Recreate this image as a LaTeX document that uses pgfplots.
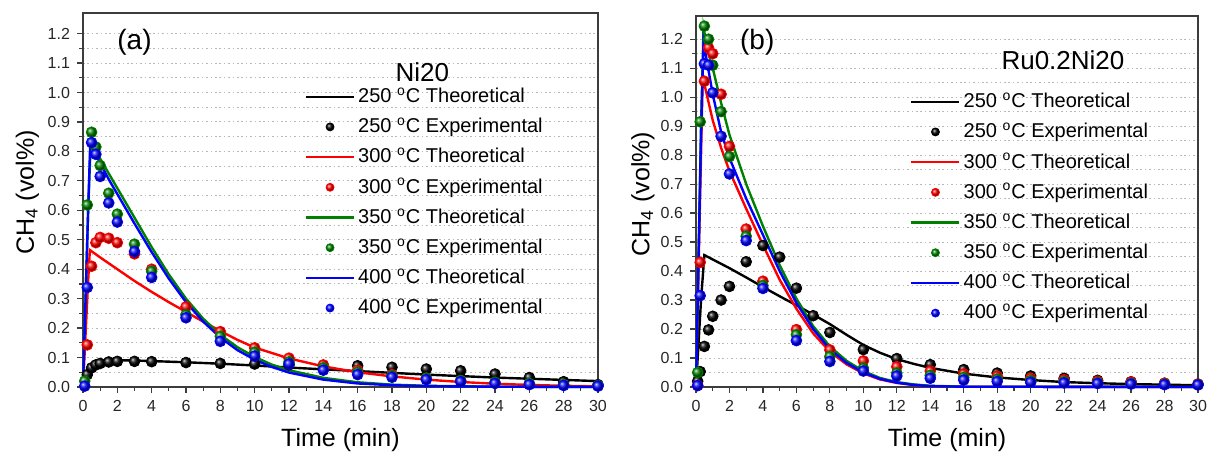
\documentclass[border=0pt]{standalone}
\usepackage{pgfplots}
\pgfplotsset{compat=1.18}
\usepackage{fontspec}
\setmainfont{Liberation Sans}
\usetikzlibrary{plotmarks}
\definecolor{cgreen}{RGB}{0,128,0}
\definecolor{cred}{RGB}{255,0,0}
\definecolor{cblue}{RGB}{0,0,255}
\definecolor{axgray}{RGB}{60,60,60}
\pgfplotsset{
  panel/.style={
    scale only axis, anchor=south west,
    xmin=0, xmax=30, ymin=0,
    xtick={0,2,4,6,8,10,12,14,16,18,20,22,24,26,28,30}, minor x tick num=1,
    ytick={0,0.1,0.2,0.3,0.4,0.5,0.6,0.7,0.8,0.9,1.0,1.1,1.2}, minor y tick num=1,
    /pgf/number format/assume math mode=true,
    yticklabel style={/pgf/number format/.cd, fixed, fixed zerofill, precision=1},
    ticklabel style={font=\fontsize{8}{9.6}\selectfont, text=black!85},
    tick align=outside, tick pos=left,
    major tick length=3pt, minor tick length=1.8pt,
    tick style={axgray, line width=0.6pt},
    axis line style={axgray, line width=0.8pt},
    ymajorgrids, yminorgrids,
    major grid style={gray!55, line width=0.5pt, dash pattern=on 0.8pt off 1.4pt},
    minor grid style={gray!55, line width=0.5pt, dash pattern=on 0.8pt off 1.4pt},
    xlabel={Time (min)}, ylabel={CH\textsubscript{4} (vol\%)},
    every axis x label/.style={at={(axis description cs:0.5,-0.142)}, anchor=center,
      font=\fontsize{12.5}{15}\selectfont},
    legend style={draw=none, fill=none, anchor=north west, font=\fontsize{10}{12}\selectfont,
      row sep=3.2pt, inner sep=0pt, nodes={inner sep=1.5pt}},
    legend cell align=left,
    clip=false,
  },
  theo/.style={line width=1.2pt, color=#1, mark=none,
    legend image code/.code={\draw[##1, line width=1.2pt] (0pt,0pt) -- (24pt,0pt);}},
  expt/.style={only marks, mark=ball, mark size=2.7pt, ball color=#1, color=#1,
    legend image code/.code={\draw[##1, mark size=2pt] plot coordinates {(12pt,0pt)};}},
}
\begin{document}
\begin{tikzpicture}
\useasboundingbox (0,0) rectangle (605pt,226.5pt);
% ---------------- panel (a)
\begin{axis}[panel, at={(41.5pt,33pt)}, width=257.5pt, height=187pt, ymax=1.27,
  every axis y label/.style={at={(axis description cs:-0.108,0.52)}, rotate=90, anchor=center,
      font=\fontsize{12.5}{15}\selectfont},
  legend style={at={(rel axis cs:0.430,0.809)}}]
\addplot[theo=black] coordinates {(0,0) (0.1,0.02) (0.25,0.05) (0.5,0.075) (0.75,0.083) (1,0.087) (1.5,0.09) (2,0.091) (3,0.09) (4,0.088) (6,0.084) (8,0.079) (10,0.073) (12,0.066) (14,0.06) (16,0.054) (18,0.048) (20,0.042) (22,0.037) (24,0.032) (26,0.028) (28,0.024) (30,0.02)};
\addlegendentry{250 \textsuperscript{o}C Theoretical}
\addplot[expt=black] coordinates {(0.25,0.042) (0.5,0.065) (0.75,0.075) (1,0.08) (1.5,0.085) (2,0.087) (3,0.087) (4,0.086) (6,0.083) (8,0.08) (10,0.078) (12,0.075) (14,0.072) (16,0.072) (18,0.067) (20,0.061) (22,0.055) (24,0.044) (26,0.032) (28,0.018) (30,0.008)};
\addlegendentry{250 \textsuperscript{o}C Experimental}
\addplot[theo=cred] coordinates {(0,0) (0.1,0.12) (0.2,0.24) (0.3,0.36) (0.4,0.465) (1,0.44) (2,0.40) (3,0.36) (4,0.323) (5,0.288) (6,0.255) (7,0.222) (8,0.19) (9,0.16) (10,0.134) (12,0.097) (14,0.07) (16,0.05) (18,0.036) (20,0.025) (22,0.017) (24,0.011) (26,0.007) (28,0.004) (30,0.002)};
\addlegendentry{300 \textsuperscript{o}C Theoretical}
\addplot[expt=cred] coordinates {(0.25,0.143) (0.5,0.41) (0.75,0.49) (1,0.508) (1.5,0.505) (2,0.49) (3,0.452) (4,0.40) (6,0.272) (8,0.188) (10,0.133) (12,0.098) (14,0.075) (16,0.057) (18,0.042) (20,0.03) (22,0.022) (24,0.015) (26,0.01) (28,0.007) (30,0.004)};
\addlegendentry{300 \textsuperscript{o}C Experimental}
\addplot[theo=cgreen] coordinates {(0,0) (0.1,0.2) (0.2,0.4) (0.3,0.6) (0.45,0.83) (1,0.775) (1.5,0.725) (2,0.675) (3,0.575) (4,0.475) (5,0.382) (6,0.30) (7,0.232) (8,0.177) (9,0.135) (10,0.102) (11,0.076) (12,0.057) (14,0.031) (16,0.016) (18,0.008) (20,0.004) (24,0.001) (30,0)};
\addlegendentry{350 \textsuperscript{o}C Theoretical}
\addplot[expt=cgreen] coordinates {(0.1,0.02) (0.25,0.618) (0.5,0.865) (0.75,0.815) (1,0.752) (1.5,0.658) (2,0.587) (3,0.485) (4,0.393) (6,0.245) (8,0.172) (10,0.118) (12,0.085) (14,0.065) (16,0.05) (18,0.038) (20,0.03) (22,0.022) (24,0.016) (26,0.012) (28,0.008) (30,0.005)};
\addlegendentry{350 \textsuperscript{o}C Experimental}
\addplot[theo=cblue] coordinates {(0,0) (0.1,0.2) (0.2,0.4) (0.3,0.6) (0.42,0.825) (1,0.76) (1.5,0.705) (2,0.655) (3,0.555) (4,0.458) (5,0.368) (6,0.288) (7,0.222) (8,0.168) (9,0.125) (10,0.093) (11,0.068) (12,0.049) (14,0.025) (16,0.012) (18,0.006) (20,0.003) (24,0.001) (30,0)};
\addlegendentry{400 \textsuperscript{o}C Theoretical}
\addplot[expt=cblue] coordinates {(0.1,0.003) (0.25,0.338) (0.5,0.83) (0.75,0.79) (1,0.715) (1.5,0.625) (2,0.56) (3,0.46) (4,0.372) (6,0.235) (8,0.155) (10,0.105) (12,0.078) (14,0.057) (16,0.042) (18,0.033) (20,0.025) (22,0.018) (24,0.012) (26,0.008) (28,0.005) (30,0.003)};
\addlegendentry{400 \textsuperscript{o}C Experimental}
\node[font=\fontsize{14}{16}\selectfont] at (rel axis cs:0.10,0.922) {(a)};
\node[font=\fontsize{13}{15}\selectfont] at (rel axis cs:0.659,0.842) {Ni20};
\end{axis}
% ---------------- panel (b)
\begin{axis}[panel, at={(348pt,33pt)}, width=251pt, height=185.5pt, ymax=1.28,
  every axis y label/.style={at={(axis description cs:-0.106,0.52)}, rotate=90, anchor=center,
      font=\fontsize{12.5}{15}\selectfont},
  legend style={at={(rel axis cs:0.426,0.802)}}]
\addplot[theo=black] coordinates {(0,0) (0.1,0.1) (0.2,0.2) (0.3,0.3) (0.5,0.455) (1,0.44) (2,0.41) (3,0.378) (4,0.345) (5,0.313) (6,0.282) (7,0.25) (8,0.217) (9,0.18) (10,0.145) (11,0.118) (12,0.096) (13,0.08) (14,0.066) (16,0.046) (18,0.033) (20,0.024) (22,0.017) (24,0.013) (26,0.01) (28,0.008) (30,0.006)};
\addlegendentry{250 \textsuperscript{o}C Theoretical}
\addplot[expt=black] coordinates {(0.1,0.02) (0.25,0.053) (0.5,0.14) (0.75,0.197) (1,0.244) (1.5,0.30) (2,0.347) (3,0.432) (4,0.488) (5,0.448) (6,0.341) (7,0.246) (8,0.188) (10,0.129) (12,0.098) (14,0.077) (16,0.06) (18,0.048) (20,0.038) (22,0.03) (24,0.023) (26,0.018) (28,0.013) (30,0.01)};
\addlegendentry{250 \textsuperscript{o}C Experimental}
\addplot[theo=cred] coordinates {(0,0) (0.1,0.27) (0.2,0.54) (0.3,0.8) (0.4,1.07) (1,0.92) (1.5,0.825) (2,0.745) (3,0.615) (4,0.49) (5,0.37) (6,0.27) (7,0.185) (8,0.122) (9,0.078) (10,0.047) (11,0.026) (12,0.014) (13,0.007) (14,0.003) (16,0.001) (30,0)};
\addlegendentry{300 \textsuperscript{o}C Theoretical}
\addplot[expt=cred] coordinates {(0.1,0.005) (0.25,0.43) (0.5,1.055) (0.75,1.17) (1,1.15) (1.5,1.01) (2,0.83) (3,0.545) (4,0.365) (6,0.198) (8,0.128) (10,0.09) (12,0.07) (14,0.055) (16,0.045) (18,0.037) (20,0.03) (22,0.025) (24,0.02) (26,0.017) (28,0.013) (30,0.01)};
\addlegendentry{300 \textsuperscript{o}C Experimental}
\addplot[theo=cgreen] coordinates {(0,0) (0.1,0.3) (0.2,0.6) (0.3,0.9) (0.45,1.24) (0.7,1.16) (1,1.1) (1.5,0.98) (2,0.87) (3,0.70) (4,0.555) (5,0.42) (6,0.305) (7,0.21) (8,0.14) (9,0.09) (10,0.055) (11,0.031) (12,0.017) (13,0.009) (14,0.004) (16,0.001) (30,0)};
\addlegendentry{350 \textsuperscript{o}C Theoretical}
\addplot[expt=cgreen] coordinates {(0.1,0.05) (0.25,0.915) (0.5,1.245) (0.75,1.2) (1,1.11) (1.5,0.95) (2,0.795) (3,0.52) (4,0.35) (6,0.18) (8,0.105) (10,0.065) (12,0.048) (14,0.04) (16,0.033) (18,0.027) (20,0.022) (22,0.018) (24,0.015) (26,0.012) (28,0.01) (30,0.008)};
\addlegendentry{350 \textsuperscript{o}C Experimental}
\addplot[theo=cblue] coordinates {(0,0) (0.1,0.29) (0.2,0.58) (0.3,0.87) (0.45,1.19) (1,1.01) (1.5,0.88) (2,0.79) (3,0.65) (4,0.525) (5,0.40) (6,0.29) (7,0.2) (8,0.13) (9,0.083) (10,0.05) (11,0.028) (12,0.015) (13,0.007) (14,0.003) (16,0.001) (30,0)};
\addlegendentry{400 \textsuperscript{o}C Theoretical}
\addplot[expt=cblue] coordinates {(0.1,0.005) (0.25,0.315) (0.5,1.115) (0.75,1.11) (1,1.015) (1.5,0.865) (2,0.735) (3,0.505) (4,0.34) (6,0.16) (8,0.088) (10,0.055) (12,0.038) (14,0.03) (16,0.024) (18,0.019) (20,0.016) (22,0.014) (24,0.012) (26,0.01) (28,0.008) (30,0.007)};
\addlegendentry{400 \textsuperscript{o}C Experimental}
\node[font=\fontsize{14}{16}\selectfont] at (rel axis cs:0.122,0.93) {(b)};
\node[font=\fontsize{13}{15}\selectfont] at (rel axis cs:0.731,0.88) {Ru0.2Ni20};
\end{axis}
\end{tikzpicture}
\end{document}
